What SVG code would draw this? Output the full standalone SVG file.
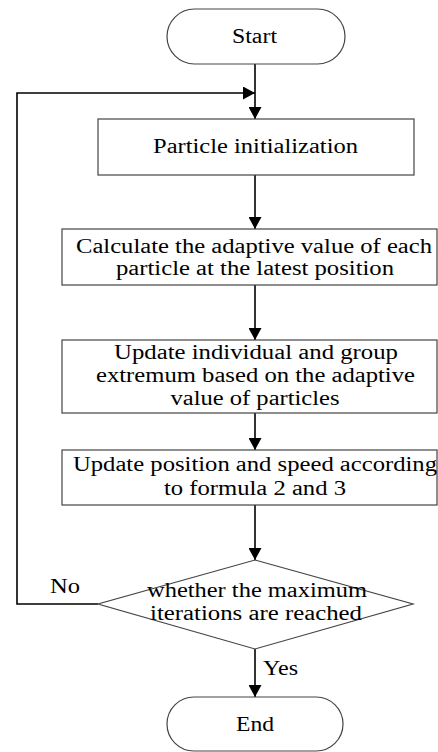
<svg xmlns="http://www.w3.org/2000/svg" width="438" height="752" viewBox="0 0 438 752">
<style>
.shape{fill:#fff;stroke:#444;stroke-width:1.2}
.conn{fill:none;stroke:#000;stroke-width:1.6}
text{font-family:"Liberation Serif","Times New Roman",Times,serif;font-size:20.5px;fill:#000;text-anchor:middle}
</style>
<defs>
<marker id="arr" markerUnits="userSpaceOnUse" markerWidth="13" markerHeight="13" refX="12" refY="6.5" orient="auto">
<path d="M0,0 L12,6.5 L0,13 z" fill="#000"/>
</marker>
</defs>
<rect width="438" height="752" fill="#fff"/>
<g id="connectors">
<line class="conn" x1="255" y1="64" x2="255" y2="119" marker-end="url(#arr)"/>
<polyline class="conn" points="98,604 17,604 17,93 255,93" marker-end="url(#arr)"/>
<line class="conn" x1="255" y1="175" x2="255" y2="229" marker-end="url(#arr)"/>
<line class="conn" x1="255" y1="285" x2="255" y2="340" marker-end="url(#arr)"/>
<line class="conn" x1="255" y1="413" x2="255" y2="450" marker-end="url(#arr)"/>
<line class="conn" x1="255" y1="505" x2="255" y2="560" marker-end="url(#arr)"/>
<line class="conn" x1="255" y1="649" x2="255" y2="697" marker-end="url(#arr)"/>
<text x="65" y="593" textLength="30" lengthAdjust="spacingAndGlyphs">No</text>
<text x="280.5" y="675" textLength="35" lengthAdjust="spacingAndGlyphs">Yes</text>
</g>
<g id="start">
<rect class="shape" x="167" y="9" width="178" height="55" rx="27.5"/>
<text x="254.5" y="43" textLength="45" lengthAdjust="spacingAndGlyphs">Start</text>
</g>
<g id="init">
<rect class="shape" x="98" y="119" width="316" height="56"/>
<text x="255.5" y="153" textLength="205" lengthAdjust="spacingAndGlyphs">Particle initialization</text>
</g>
<g id="calc">
<rect class="shape" x="62" y="229" width="375" height="56"/>
<text x="254" y="253" textLength="356" lengthAdjust="spacingAndGlyphs">Calculate the adaptive value of each</text>
<text x="255" y="275" textLength="278" lengthAdjust="spacingAndGlyphs">particle at the latest position</text>
</g>
<g id="update-extremum">
<rect class="shape" x="62" y="340" width="375" height="73"/>
<text x="256" y="359" textLength="284" lengthAdjust="spacingAndGlyphs">Update individual and group</text>
<text x="255.5" y="382" textLength="319" lengthAdjust="spacingAndGlyphs">extremum based on the adaptive</text>
<text x="255" y="405" textLength="169" lengthAdjust="spacingAndGlyphs">value of particles</text>
</g>
<g id="update-position">
<rect class="shape" x="62" y="450" width="375" height="55"/>
<text x="255" y="471" textLength="364" lengthAdjust="spacingAndGlyphs">Update position and speed according</text>
<text x="255" y="495" textLength="182" lengthAdjust="spacingAndGlyphs">to formula 2 and 3</text>
</g>
<g id="decision">
<polygon class="shape" points="255,560 413,604 255,649 98,604"/>
<text x="257" y="597" textLength="220" lengthAdjust="spacingAndGlyphs">whether the maximum</text>
<text x="256" y="620" textLength="212" lengthAdjust="spacingAndGlyphs">iterations are reached</text>
</g>
<g id="end">
<rect class="shape" x="167" y="697" width="176" height="54" rx="27"/>
<text x="255" y="731" textLength="38" lengthAdjust="spacingAndGlyphs">End</text>
</g>
</svg>
